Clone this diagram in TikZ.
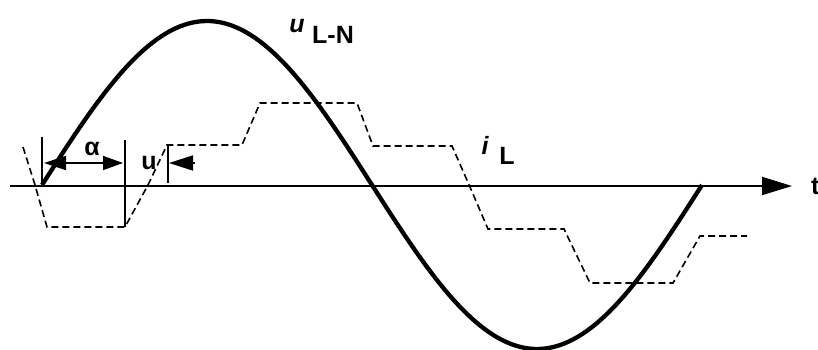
\documentclass[tikz,border=0pt]{standalone}
\usepackage{fontspec}
\setmainfont{Liberation Sans}
\usetikzlibrary{arrows.meta}
\begin{document}
\begin{tikzpicture}[x=1pt,y=-1pt,
  axisline/.style={line width=1.8pt},
  wave/.style={line width=4.3pt},
  current/.style={line width=1.6pt, dash pattern=on 7pt off 4pt},
  thin/.style={line width=1.4pt},
  dimarrow/.style={line width=1.6pt, {Triangle[length=22pt,width=14pt]}-{Triangle[length=20pt,width=14pt]}},
  onearrow/.style={line width=1.6pt, -{Triangle[length=24pt,width=15pt]}},
  lbl/.style={font=\fontsize{25}{27}\selectfont\bfseries, inner sep=0pt}]
\useasboundingbox (0,0) rectangle (818,349);
% axis
\coordinate (ax0) at (10,186);
\coordinate (ax1) at (792,186);
\draw[axisline, -{Triangle[length=30pt,width=18pt]}] (ax0) -- (ax1);
\node[lbl, anchor=west] (t) at (811,186) {t};
% voltage
\draw[wave] plot[domain=42:702, samples=150] (\x, {185 - 164*sin((\x-42)/660*360)});
% current
\draw[current] (23,147) -- (35,185) -- (47,227) -- (125,227) -- (148,185) -- (167,145)
  -- (242,145) -- (260,103) -- (357,103) -- (373,146) -- (452,146) -- (470,187)
  -- (488,229) -- (564,229) -- (590,283) -- (673,283) -- (700,236) -- (747,236);
% marker lines
\coordinate (v1t) at (42,137); \coordinate (v1b) at (42,184);
\coordinate (v2t) at (125,140); \coordinate (v2b) at (125,227);
\coordinate (v3t) at (168,145); \coordinate (v3b) at (168,183);
\draw[thin] (v1t) -- (v1b);
\draw[thin] (v2t) -- (v2b);
\draw[thin] (v3t) -- (v3b);
% alpha dimension
\coordinate (a0) at (44,163); \coordinate (a1) at (123,163);
\draw[dimarrow] (a0) -- (a1);
\node[lbl] (alpha) at (92,149) {α};
% u arrow
\coordinate (u0) at (195,163); \coordinate (u1) at (169,163);
\draw[onearrow] (u0) -- (u1);
\node[lbl] (ulab) at (149,163) {u};
% labels
\node[lbl] (uLN) at (297,26) {\itshape u};
\node[lbl, anchor=west] (LN) at (312,35) {L-N};
\node[lbl] (iL) at (485,145) {\itshape i};
\node[lbl] (L) at (507,156) {L};
\end{tikzpicture}
\end{document}
